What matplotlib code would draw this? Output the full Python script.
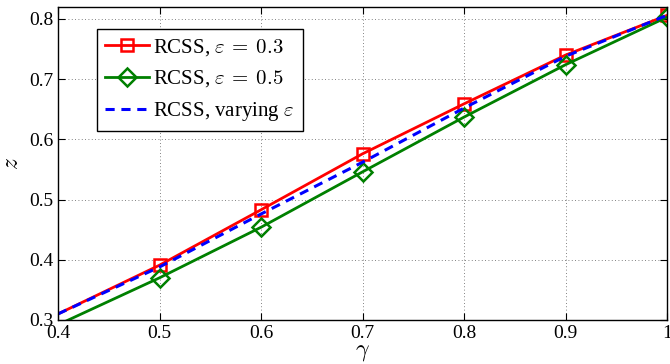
import numpy as np
import matplotlib.pyplot as plt

plt.rcParams['font.family'] = ['Liberation Serif', 'DejaVu Serif']
plt.rcParams['mathtext.fontset'] = 'cm'

# data
gamma = [0.4, 0.5, 0.6, 0.7, 0.8, 0.9, 1.0]
z_eps03 = [0.310, 0.391, 0.483, 0.576, 0.659, 0.740, 0.806]
z_eps05 = [0.292, 0.370, 0.454, 0.546, 0.637, 0.724, 0.803]
z_vary = [0.310, 0.388, 0.476, 0.562, 0.652, 0.738, 0.806]

fig = plt.figure(figsize=(6.7, 3.64), dpi=100)
ax = fig.add_axes([0.0866, 0.121, 0.909, 0.860])

ax.plot(gamma, z_eps03, color='red', lw=2.0, marker='s', ms=9,
        mfc='none', mew=1.8, markevery=list(range(1, 7)),
        label=r'RCSS, $\varepsilon\:=\:0.3$')
ax.plot(gamma, z_eps05, color='green', lw=2.0, marker='D', ms=9,
        mfc='none', mew=1.8, markevery=list(range(1, 7)),
        label=r'RCSS, $\varepsilon\:=\:0.5$')
ax.plot(gamma, z_vary, color='blue', lw=2.2, ls=(0, (3.0, 2.2)),
        label=r'RCSS, varying $\varepsilon$')

ax.set_xlim(0.4, 1.0)
ax.set_ylim(0.3, 0.82)
ax.set_xticks([0.4, 0.5, 0.6, 0.7, 0.8, 0.9, 1.0])
ax.set_xticklabels(['0.4', '0.5', '0.6', '0.7', '0.8', '0.9', '1'])
ax.set_yticks([0.3, 0.4, 0.5, 0.6, 0.7, 0.8])
ax.tick_params(direction='in', top=True, right=True, labelsize=14,
               length=5, width=0.8)
ax.grid(True, color='0.35', ls=(0, (1, 3)), lw=0.6)
for s in ax.spines.values():
    s.set_linewidth(1.0)

ax.set_xlabel(r'$\gamma$', fontsize=17, labelpad=0)
ax.set_ylabel(r'$z$', fontsize=17, labelpad=4)

leg = ax.legend(loc='upper left', bbox_to_anchor=(0.064, 0.93),
                fontsize=15, fancybox=False, edgecolor='black',
                framealpha=1, handlelength=2.1, handletextpad=0.2,
                labelspacing=0.5, borderpad=0.4, borderaxespad=0)
leg.get_frame().set_linewidth(1.0)

fig.savefig('out.png', dpi=100)
